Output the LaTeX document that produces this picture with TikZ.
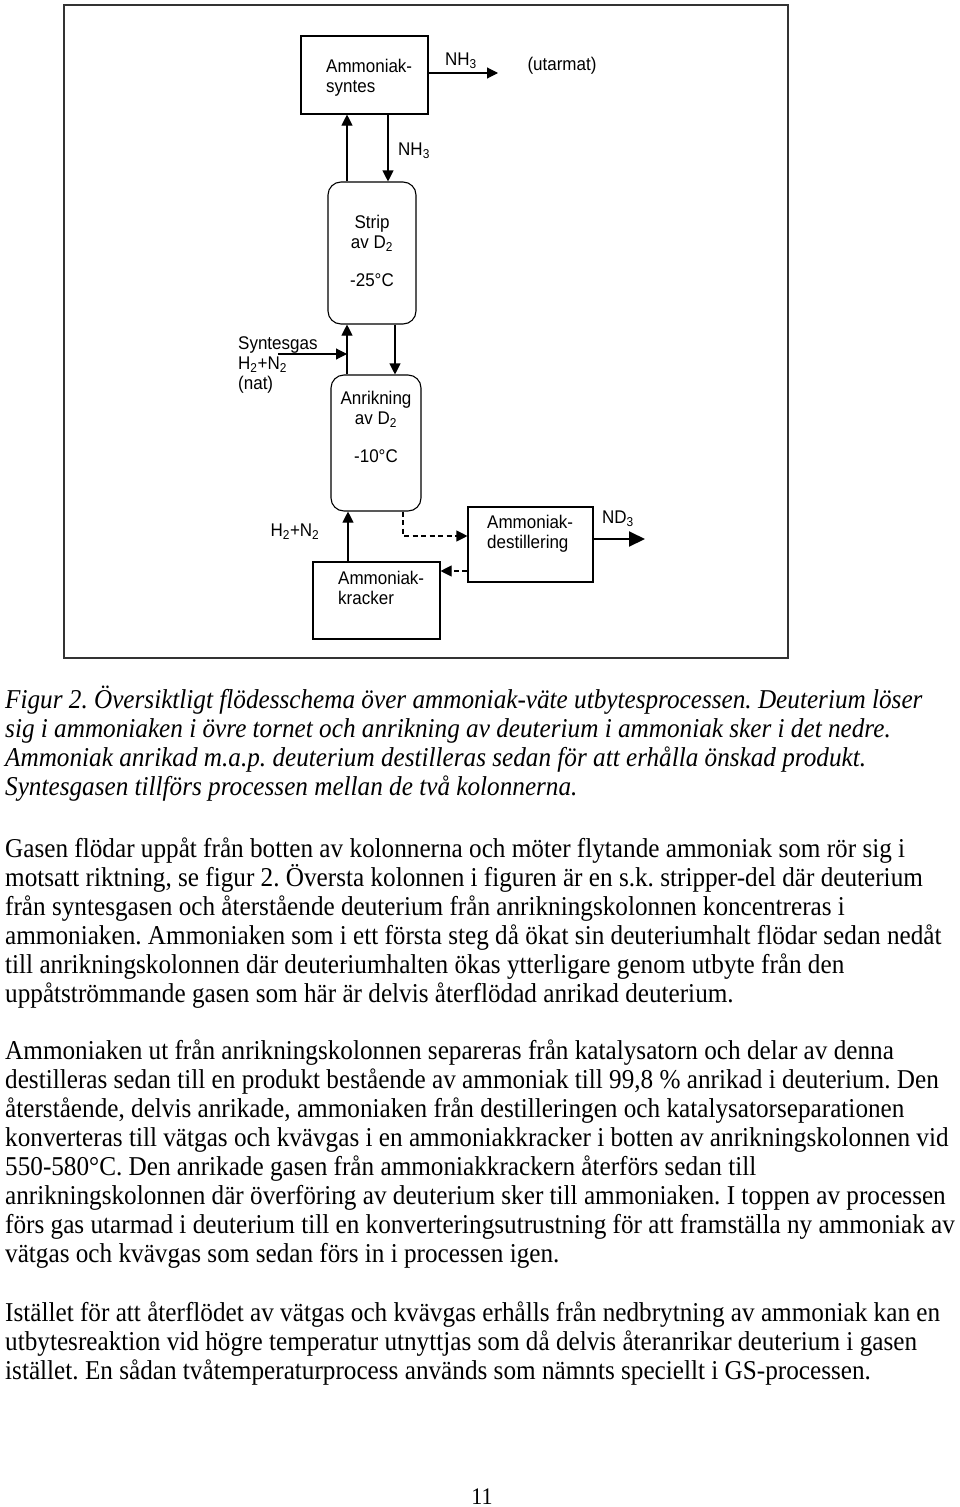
\documentclass[tikz,border=0pt]{standalone}
\usepackage{fontspec}
\setmainfont{Liberation Serif}
\newfontfamily\arialf{Liberation Sans}
\usetikzlibrary{arrows.meta}
\newcommand{\vs}[1]{\scalebox{1}[1.08]{#1}}
\frenchspacing
\begin{document}
\begin{tikzpicture}[x=1pt,y=-1pt,
  txt/.style={anchor=base west,inner sep=0pt,font=\fontsize{25.2}{29}\selectfont},
  captxt/.style={anchor=base west,inner sep=0pt,font=\fontsize{25.2}{29}\selectfont\itshape},
  dg/.style={inner sep=0pt,font=\arialf\fontsize{17}{20}\selectfont},
  dgl/.style={dg,anchor=west,align=left},
  pbox/.style={draw,line width=1.1pt,inner sep=0pt},
  col/.style={draw,line width=1.1pt,inner sep=0pt,rounded corners=13pt},
  arr/.style={line width=1.1pt,-{Triangle[length=11pt,width=11pt]}},
  darr/.style={line width=1.1pt,dash pattern=on 5pt off 3.5pt,-{Triangle[length=11pt,width=11pt]}},
  barr/.style={line width=2pt,-{Triangle[length=16pt,width=15pt]}}]
\useasboundingbox (0,0) rectangle (960,1507);
\fill[white] (0,0) rectangle (960,1507);
% frame
\draw[line width=2pt,draw=black!80] (64,5) rectangle (788,658);

% boxes
\node[pbox,minimum width=127pt,minimum height=78pt] (syn) at (364.5,75) {};
\node[col,minimum width=88pt,minimum height=142pt] (strip) at (372,253) {};
\node[col,minimum width=90pt,minimum height=136pt] (anr) at (376,443) {};
\node[pbox,minimum width=125pt,minimum height=75pt] (dest) at (530.5,544.5) {};
\node[pbox,minimum width=127pt,minimum height=77pt] (krack) at (376.5,600.5) {};

% box texts
\node[dgl] (synt) at (326,78) {\vs{Ammoniak-}\\\vs{syntes}};
\node[dg,align=center] (stript) at (372,251) {\vs{Strip}\\\vs{av D\textsubscript{2}}\\[18pt]\vs{-25°C}};
\node[dg,align=center] (anrt) at (376,427) {\vs{Anrikning}\\\vs{av D\textsubscript{2}}\\[18pt]\vs{-10°C}};
\node[dgl] (destt) at (487,534) {\vs{Ammoniak-}\\\vs{destillering}};
\node[dgl] (krackt) at (338,588) {\vs{Ammoniak-}\\\vs{kracker}};

% coordinates
\coordinate (xa) at (347,0);
\coordinate (xb) at (388,0);
\coordinate (xc) at (395,0);
\coordinate (xd) at (348,0);
\coordinate (xe) at (403,0);
\coordinate (ya) at (0,73);
\coordinate (yc) at (0,536);
\coordinate (yd) at (0,571);
\coordinate (ye) at (0,539);
\coordinate (outend) at (498,73);
\coordinate (sgstart) at (278,354);
\coordinate (ndend) at (645,539);
\coordinate (dbend) at (403,536);

% connectors
\draw[arr] (strip.north -| xa) -- (syn.south -| xa);
\draw[arr] (syn.south -| xb) -- (strip.north -| xb);
\draw[arr] (syn.east |- ya) -- (outend);
\draw[arr] (anr.north -| xa) -- (strip.south -| xa);
\draw[arr] (sgstart) -- (sgstart -| xa);
\draw[arr] (strip.south -| xc) -- (anr.north -| xc);
\draw[arr] (krack.north -| xd) -- (anr.south -| xd);
\draw[darr] (anr.south -| xe) -- (dbend) -- (dest.west |- yc);
\draw[darr] (dest.west |- yd) -- (krack.east |- yd);
\draw[barr] (dest.east |- ye) -- (ndend);

% labels
\node[dg] (nh3a) at (461,61) {\vs{NH\textsubscript{3}}};
\node[dg] (utarm) at (562,66) {\vs{(utarmat)}};
\node[dg,anchor=west] (nh3b) at (398,151) {\vs{NH\textsubscript{3}}};
\node[dgl] (sgas) at (238,365) {\vs{Syntesgas}\\\vs{H\textsubscript{2}+N\textsubscript{2}}\\\vs{(nat)}};
\node[dg] (h2n2) at (295,532) {\vs{H\textsubscript{2}+N\textsubscript{2}}};
\node[dg] (nd3) at (618,519) {\vs{ND\textsubscript{3}}};

% caption
\node[captxt] (c1) at (5,708) {\vs{Figur 2. Översiktligt flödesschema över ammoniak-väte utbytesprocessen. Deuterium löser}};
\node[captxt] (c2) at (5,737) {\vs{sig i ammoniaken i övre tornet och anrikning av deuterium i ammoniak sker i det nedre.}};
\node[captxt] (c3) at (5,766) {\vs{Ammoniak anrikad m.a.p. deuterium destilleras sedan för att erhålla önskad produkt.}};
\node[captxt] (c4) at (5,795) {\vs{Syntesgasen tillförs processen mellan de två kolonnerna.}};

% paragraph 1
\node[txt] (a1) at (5,857) {\vs{Gasen flödar uppåt från botten av kolonnerna och möter flytande ammoniak som rör sig i}};
\node[txt] (a2) at (5,886) {\vs{motsatt riktning, se figur 2. Översta kolonnen i figuren är en s.k. stripper-del där deuterium}};
\node[txt] (a3) at (5,915) {\vs{från syntesgasen och återstående deuterium från anrikningskolonnen koncentreras i}};
\node[txt] (a4) at (5,944) {\vs{ammoniaken. Ammoniaken som i ett första steg då ökat sin deuteriumhalt flödar sedan nedåt}};
\node[txt] (a5) at (5,973) {\vs{till anrikningskolonnen där deuteriumhalten ökas ytterligare genom utbyte från den}};
\node[txt] (a6) at (5,1002) {\vs{uppåtströmmande gasen som här är delvis återflödad anrikad deuterium.}};

% paragraph 2
\node[txt] (b1) at (5,1059) {\vs{Ammoniaken ut från anrikningskolonnen separeras från katalysatorn och delar av denna}};
\node[txt] (b2) at (5,1088) {\vs{destilleras sedan till en produkt bestående av ammoniak till 99,8 \% anrikad i deuterium. Den}};
\node[txt] (b3) at (5,1117) {\vs{återstående, delvis anrikade, ammoniaken från destilleringen och katalysatorseparationen}};
\node[txt] (b4) at (5,1146) {\vs{konverteras till vätgas och kvävgas i en ammoniakkracker i botten av anrikningskolonnen vid}};
\node[txt] (b5) at (5,1175) {\vs{550-580°C. Den anrikade gasen från ammoniakkrackern återförs sedan till}};
\node[txt] (b6) at (5,1204) {\vs{anrikningskolonnen där överföring av deuterium sker till ammoniaken. I toppen av processen}};
\node[txt] (b7) at (5,1233) {\vs{förs gas utarmad i deuterium till en konverteringsutrustning för att framställa ny ammoniak av}};
\node[txt] (b8) at (5,1262) {\vs{vätgas och kvävgas som sedan förs in i processen igen.}};

% paragraph 3
\node[txt] (d1) at (5,1321) {\vs{Istället för att återflödet av vätgas och kvävgas erhålls från nedbrytning av ammoniak kan en}};
\node[txt] (d2) at (5,1350) {\vs{utbytesreaktion vid högre temperatur utnyttjas som då delvis återanrikar deuterium i gasen}};
\node[txt] (d3) at (5,1379) {\vs{istället. En sådan tvåtemperaturprocess används som nämnts speciellt i GS-processen.}};

% page number
\node[inner sep=0pt,anchor=base,font=\fontsize{22}{26}\selectfont] (pg) at (482,1504) {\vs{11}};
\end{tikzpicture}
\end{document}
